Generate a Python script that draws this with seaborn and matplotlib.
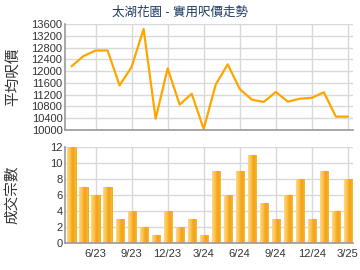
import numpy as np
import pandas as pd
import matplotlib
matplotlib.use("Agg")
import matplotlib.pyplot as plt
import seaborn as sns
from matplotlib.colors import LinearSegmentedColormap

months = ["4/23","5/23","6/23","7/23","8/23","9/23","10/23","11/23","12/23","1/24","2/24","3/24",
          "4/24","5/24","6/24","7/24","8/24","9/24","10/24","11/24","12/24","1/25","2/25","3/25"]
price = [12160, 12510, 12700, 12700, 11510, 12140, 13430, 10380, 12090, 10860, 11230, 10030,
         11540, 12230, 11390, 11030, 10950, 11290, 10960, 11060, 11090, 11280, 10450, 10450]
count = [12, 7, 6, 7, 3, 4, 2, 1, 4, 2, 3, 1, 9, 6, 9, 11, 5, 3, 6, 8, 3, 9, 4, 8]
tick_labels = ["6/23", "9/23", "12/23", "3/24", "6/24", "9/24", "12/24", "3/25"]
title = "太湖花園 - 實用呎價走勢"

sns.set_theme(style="white")
plt.rcParams['font.family'] = ['Liberation Sans', 'Noto Sans CJK TC', 'DejaVu Sans']

df = pd.DataFrame({"month": months, "idx": np.arange(len(months)), "price": price, "count": count})
tick_pos = [months.index(t) for t in tick_labels]

fig = plt.figure(figsize=(3.6, 2.7), dpi=100)
ax1 = fig.add_axes([0.181, 0.519, 0.800, 0.392])
ax2 = fig.add_axes([0.181, 0.100, 0.800, 0.356])

grid_c = "#d9d9d9"
spine_c = "#999999"
txt_c = "#333333"

sns.lineplot(data=df, x="idx", y="price", ax=ax1, color="#FFA500", linewidth=1.6)
sns.barplot(data=df, x="idx", y="count", ax=ax2, color="#F7B030", width=0.68,
            edgecolor="#F5A800", linewidth=0.6, saturation=1)

# gradient fill on bars
grad = np.linspace(0, 1, 64).reshape(1, -1)
cmap = LinearSegmentedColormap.from_list("bar", ["#FFD886", "#FBC04A", "#F2A210", "#F6B83A"])
for p in ax2.patches:
    x0, y0 = p.get_x(), p.get_y()
    w, h = p.get_width(), p.get_height()
    if h <= 0:
        continue
    im = ax2.imshow(grad, extent=[x0, x0 + w, y0, y0 + h], aspect="auto", cmap=cmap, zorder=p.get_zorder())
    im.set_clip_path(p)

for ax in (ax1, ax2):
    ax.set_xlim(-0.53, 23.44)
    ax.set_xticks(tick_pos)
    ax.grid(True, color=grid_c, linewidth=1)
    ax.set_axisbelow(True)
    for s in ("top", "right"):
        ax.spines[s].set_visible(False)
    for s in ("left", "bottom"):
        ax.spines[s].set_color(spine_c)
        ax.spines[s].set_linewidth(1.2)
    ax.tick_params(axis="y", labelsize=8, colors=txt_c, length=0, pad=2)
    ax.set_xlabel("")

ax1.set_ylim(10000, 13600)
ax1.set_yticks(np.arange(10000, 13601, 400))
ax1.tick_params(axis="x", labelbottom=False, length=0)
ax1.set_ylabel("平均呎價", fontsize=10.5, color=txt_c)
ax1.yaxis.set_label_coords(-0.158, 0.5)

ax2.set_ylim(0, 12)
ax2.set_yticks(np.arange(0, 13, 2))
ax2.set_xticklabels(tick_labels)
ax2.tick_params(axis="x", labelsize=8, colors=txt_c, length=3, width=1, color=spine_c, pad=1)
ax2.set_ylabel("成交宗數", fontsize=10.5, color=txt_c)
ax2.yaxis.set_label_coords(-0.158, 0.5)

fig.text(0.5, 0.952, title, ha="center", va="center", fontsize=9, color="#1F3A60")

fig.savefig("out.png", dpi=100)
